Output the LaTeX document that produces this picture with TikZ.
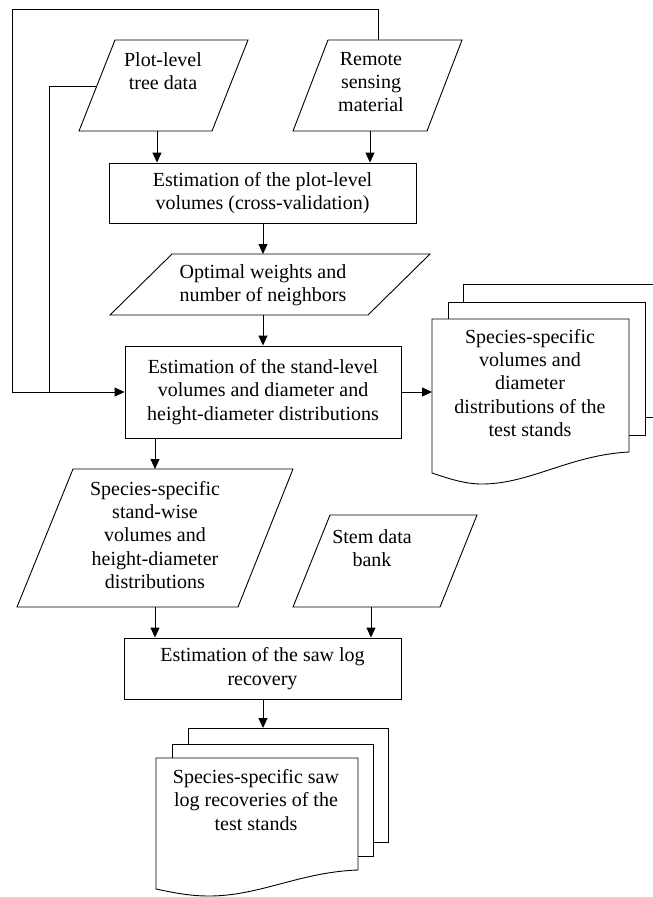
\documentclass[tikz,border=0pt]{standalone}
\usepackage{fontspec}
\setmainfont{Liberation Serif}
\usetikzlibrary{arrows.meta}
\begin{document}
\begin{tikzpicture}[x=1pt,y=-1pt,
  line/.style={draw=black, line width=0.9pt},
  arr/.style={line, -{Triangle[length=10pt,width=9pt]}},
  shapefill/.style={line, fill=white, line join=miter},
  txt/.style={align=center, font=\fontsize{20}{23.3}\selectfont, inner sep=0pt},
  procbox/.style={txt, draw=black, line width=0.9pt, fill=white}]
\useasboundingbox (0,0) rectangle (653,897);
\clip (0,0) rectangle (653,897);

% --- input parallelograms
\path[shapefill] (115,40) -- (248,40) -- (212,131) -- (79,131) -- cycle;
\node[txt] (plot) at (163,71) {Plot-level\\tree data};
\coordinate (plotB) at (157,131);
\coordinate (plotL) at (97,86);

\path[shapefill] (328,40) -- (462,40) -- (427,131) -- (293,131) -- cycle;
\node[txt] (remote) at (371,82) {Remote\\sensing\\material};
\coordinate (remB) at (370,131);
\coordinate (remT) at (378,40);

% --- box 1
\node[procbox, minimum width=307pt, minimum height=60pt] (box1) at (262.5,193)
  {Estimation of the plot-level\\volumes (cross-validation)};

% --- optimal weights
\path[shapefill] (172,254) -- (430,254) -- (368,315) -- (110,315) -- cycle;
\node[txt] (optimal) at (263,285) {Optimal weights and\\number of neighbors};
\coordinate (optT) at (263,254);
\coordinate (optB) at (263,315);

% --- box 2
\node[procbox, minimum width=276pt, minimum height=92pt] (box2) at (263,392)
  {Estimation of the stand-level\\volumes and diameter and\\height-diameter distributions};

% --- right multi-document
\path[shapefill] (463,284) rectangle (661,417);
\path[shapefill] (448,302) rectangle (645,435);
\path[shapefill] (432,319) -- (629,319) -- (629,452)
  .. controls (570,455) and (530,484) .. (482,484)
  .. controls (465,484) and (450,479) .. (432,473) -- cycle;
\node[txt] (docA) at (530,383) {Species-specific\\volumes and\\diameter\\distributions of the\\test stands};
\coordinate (docAin) at (432,392);

% --- stand-wise parallelogram
\path[shapefill] (73,469) -- (293,469) -- (238,607) -- (17,607) -- cycle;
\node[txt] (stand) at (155,535) {Species-specific\\stand-wise\\volumes and\\height-diameter\\distributions};
\coordinate (standT) at (155,469);
\coordinate (standB) at (155,607);

% --- stem data bank
\path[shapefill] (330,515) -- (477,515) -- (440,607) -- (293,607) -- cycle;
\node[txt] (stem) at (372,548) {Stem data\\bank};
\coordinate (stemB) at (371,607);

% --- box 3
\node[procbox, minimum width=277pt, minimum height=61pt] (box3) at (262.5,668.5)
  {Estimation of the saw log\\recovery};

% --- bottom multi-document
\path[shapefill] (188,728) rectangle (388,842);
\path[shapefill] (172,744) rectangle (373,856);
\path[shapefill] (156,758) -- (358,758) -- (358,870)
  .. controls (300,872) and (260,896) .. (209,896)
  .. controls (190,896) and (175,893) .. (156,889) -- cycle;
\node[txt] (docB) at (256,800) {Species-specific saw\\log recoveries of the\\test stands};
\coordinate (docBT) at (263,728);

% --- connectors
\draw[arr] (plotB) -- (plotB |- box1.north);
\draw[arr] (remB) -- (remB |- box1.north);
\draw[arr] (box1.south -| optT) -- (optT);
\draw[arr] (optB) -- (optB |- box2.north);
\draw[arr] (remT) |- (12,9) |- (box2.west);
\draw[line] (plotL) -| (49,392);
\draw[arr] (box2.east) -- (docAin);
\draw[arr] (box2.south -| standT) -- (standT);
\draw[arr] (standB) -- (standB |- box3.north);
\draw[arr] (stemB) -- (stemB |- box3.north);
\draw[arr] (box3.south -| docBT) -- (docBT);
\end{tikzpicture}
\end{document}
